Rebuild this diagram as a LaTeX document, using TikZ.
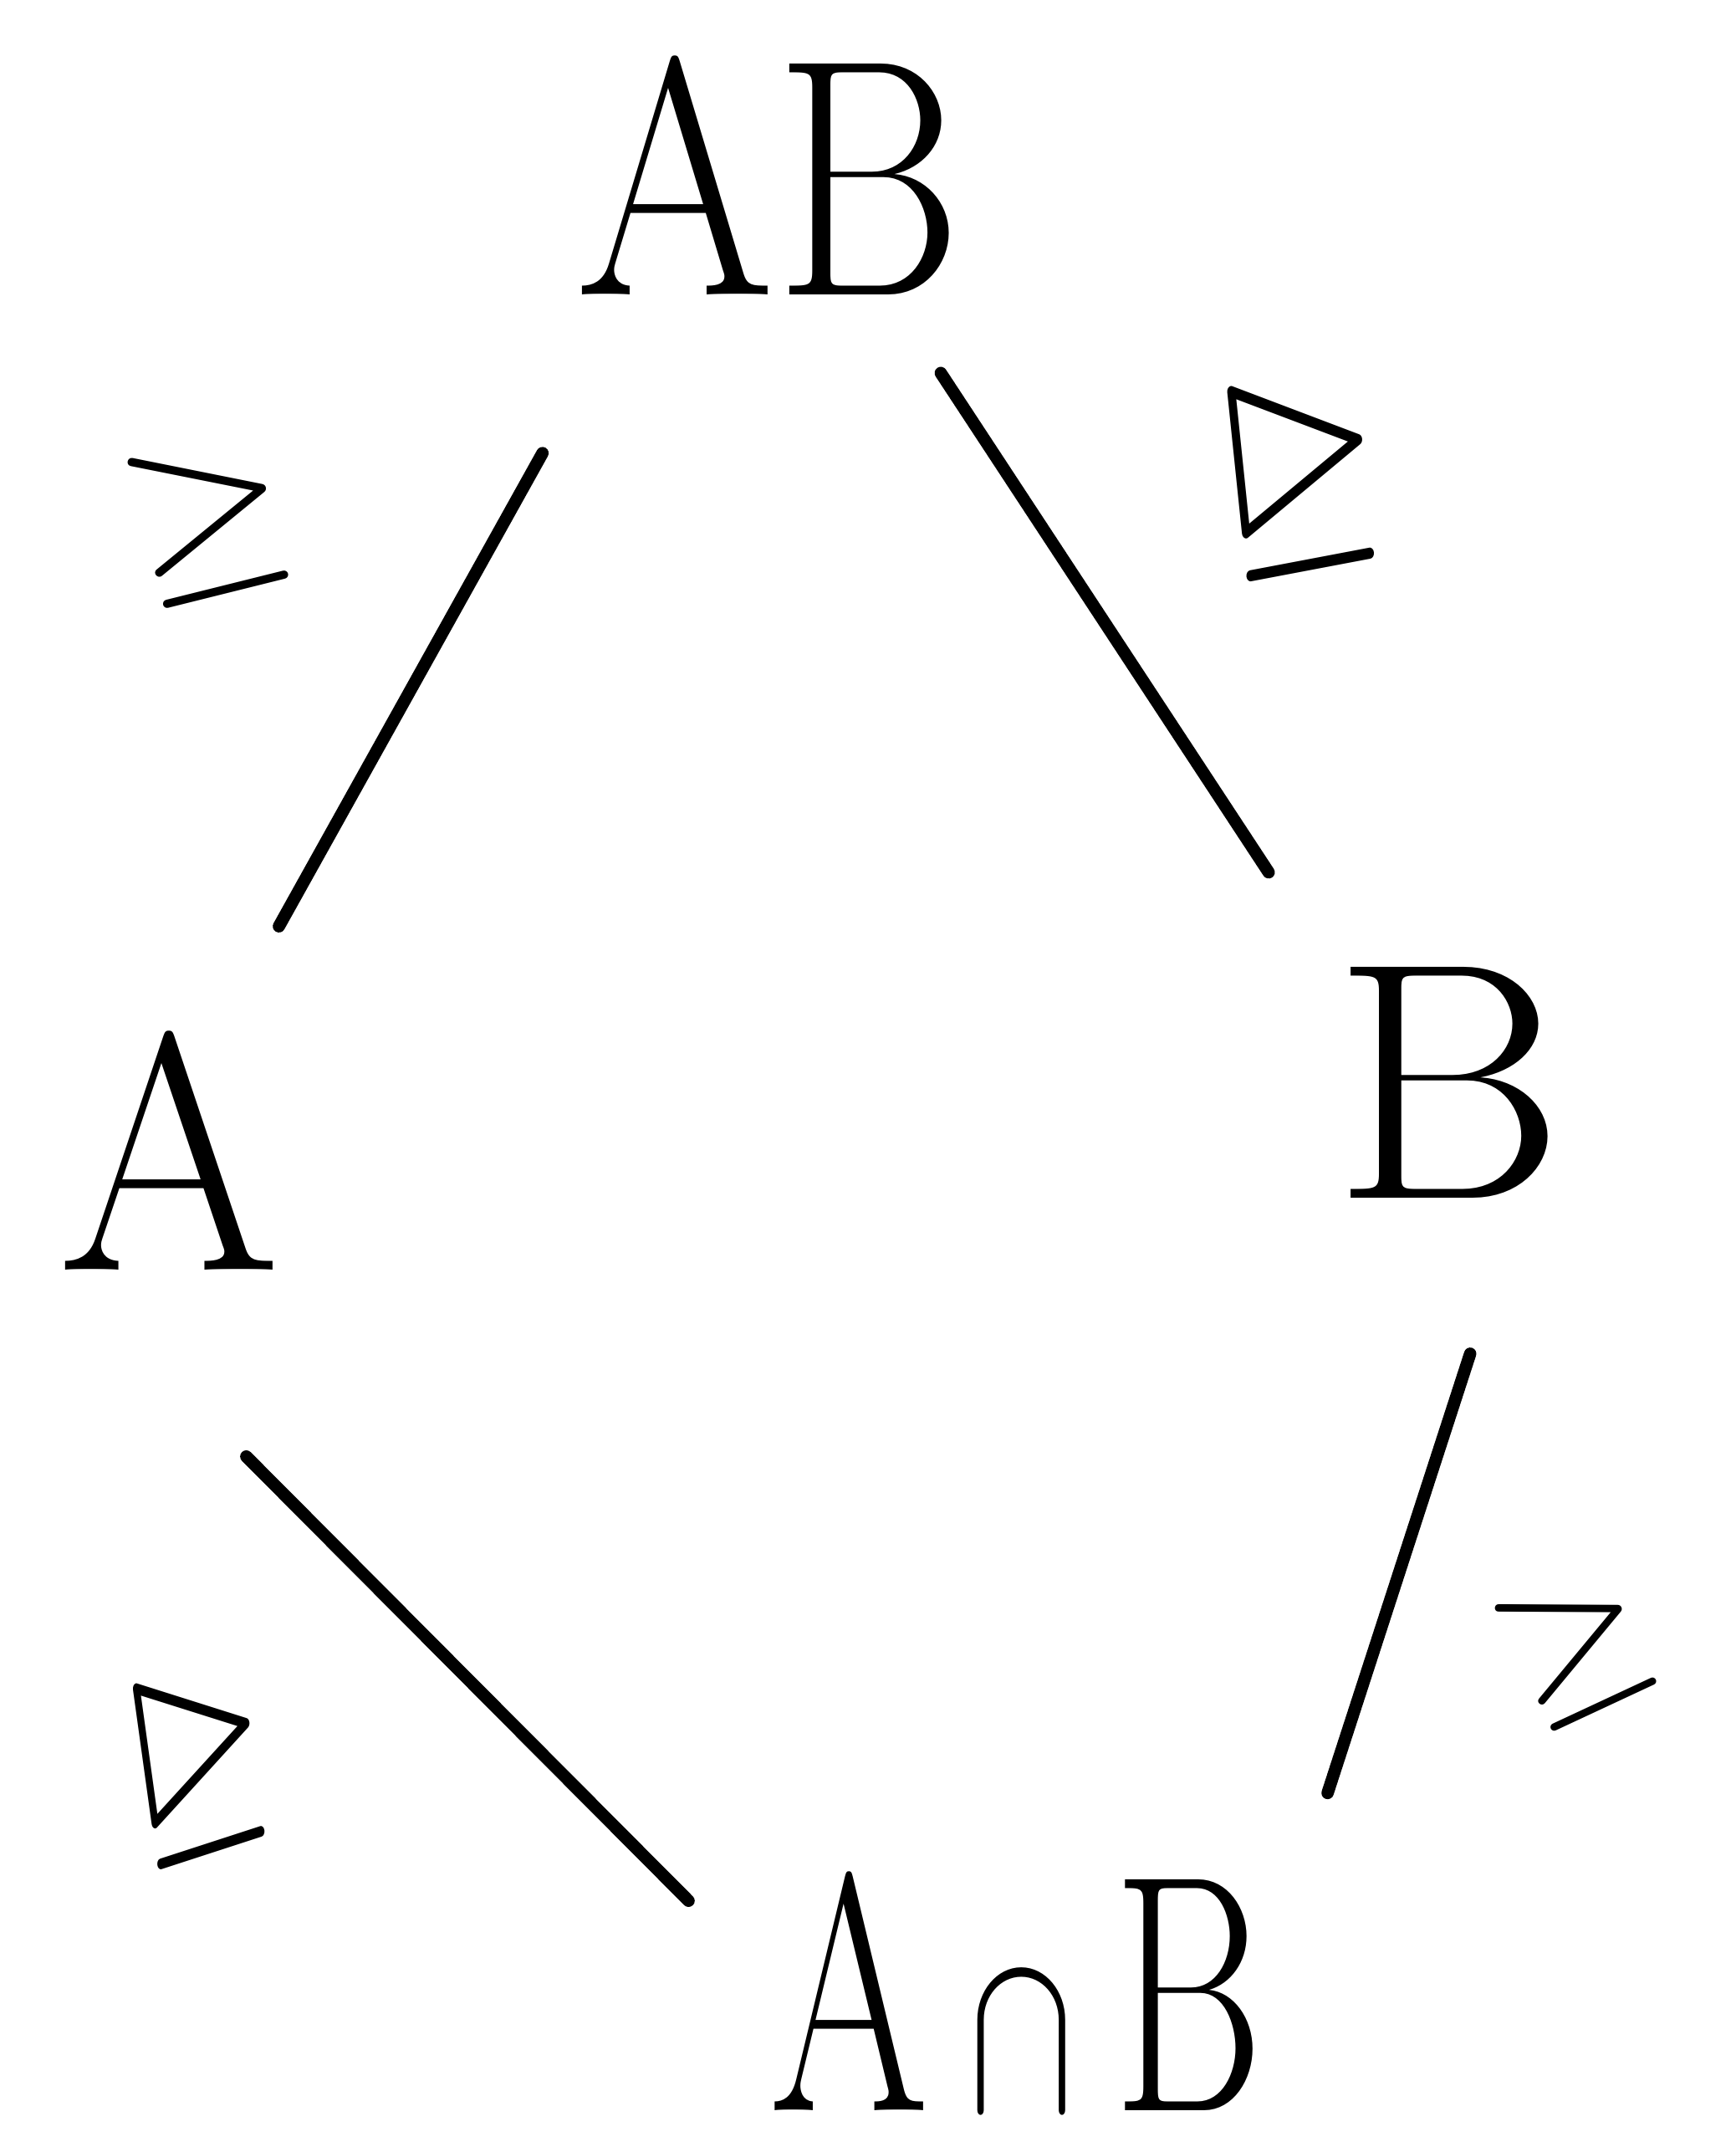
\documentclass[tikz,border=0pt]{standalone}
\usepackage{graphicx}
\usepackage{unicode-math}
\setmathfont{Latin Modern Math}

\tikzset{
  vertice/.style={inner sep=0pt, font=\fontsize{115}{130}\selectfont},
  arista/.style={line width=4.2pt, line cap=round},
  relacion/.style={inner sep=0pt, font=\fontsize{70}{80}\selectfont}
}

\begin{document}
\begin{tikzpicture}
\useasboundingbox (0,0) rectangle (20.75,-25.67);

% Vertices
\node[vertice, minimum width=4.6cm, minimum height=2.9cm] (AB) at (9.20,-2.10) {\scalebox{0.85}[1]{$\mathrm{AB}$}};
\node[vertice, minimum width=2.6cm, minimum height=2.8cm] (A) at (2.03,-13.76) {\scalebox{0.95}[1]{$\mathrm{A}$}};
\node[vertice, minimum width=3.1cm, minimum height=2.9cm] (B) at (17.32,-12.94) {\scalebox{1.05}[1]{$\mathrm{B}$}};
\node[vertice, minimum width=6.3cm, minimum height=2.6cm] (AcapB) at (12.16,-23.83) {\scalebox{0.68}[1]{$\mathrm{A}\,{\scriptstyle\cap}\,\mathrm{B}$}};

% Aristas
\draw[arista, shorten <=2.13cm, shorten >=1.43cm] (AB.221) -- (A.67);
\draw[arista, shorten <=1.08cm, shorten >=1.26cm] (AB.315.6) -- (B.135.8);
\draw[arista, shorten <=3.13cm, shorten >=1.09cm] (A.228) -- (AcapB.174.2);
\draw[arista, shorten <=1.88cm, shorten >=1.81cm] (B.300) -- (AcapB.12.4);

% Relaciones
\node[relacion, rotate=14] (geAB) at (2.49,-6.19) {$\geq$};
\node[relacion, yscale=1.35, rotate=8] (trAB) at (15.56,-5.65) {$\trianglerighteq$};
\node[relacion, xscale=0.85, yscale=1.3, rotate=12] (trA) at (2.38,-21.05) {$\trianglerighteq$};
\node[relacion, scale=0.9, rotate=25] (geB) at (18.84,-19.66) {$\geq$};
\end{tikzpicture}
\end{document}
